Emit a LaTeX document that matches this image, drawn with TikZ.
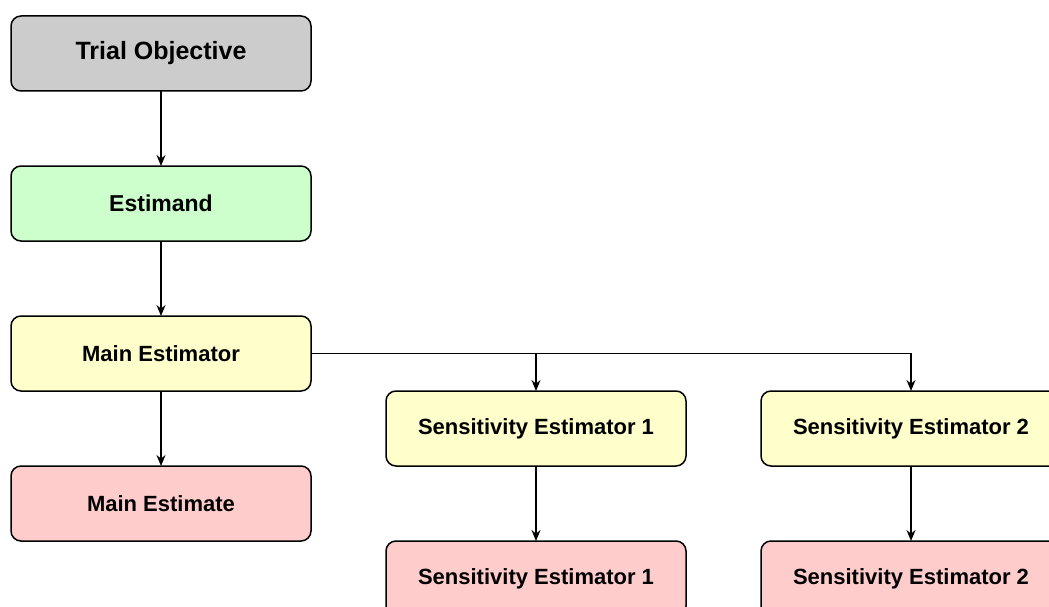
\documentclass[tikz,border=0pt]{standalone}
\usepackage{fontspec}
\setmainfont{Liberation Sans}
\usepackage{tikz}
\usepackage{xcolor}
\usetikzlibrary{positioning,arrows.meta}
\definecolor{objgray}{HTML}{CCCCCC}
\definecolor{estgreen}{HTML}{CCFFCC}
\definecolor{estyellow}{HTML}{FFFFCC}
\definecolor{estred}{HTML}{FFCCCC}
\tikzset{
    flow-box/.style = {draw=black, line width=1.5pt, rectangle, rounded corners=10pt, minimum width=300pt, minimum height=75pt, inner sep=0pt, outer sep=0pt, font=\bfseries\fontsize{22}{26}\selectfont},
    flow-arrow/.style = {draw=black, line width=1.5pt, -{Stealth[length=11pt,width=9pt]}},
}

\begin{document}
\begin{tikzpicture}[x=1pt, y=-1pt, node distance=75pt]
\useasboundingbox (0,0) rectangle (1049,607);
\clip (0,0) rectangle (1049,607);
\node [flow-box, fill=objgray, font=\bfseries\fontsize{25}{30}\selectfont] (objective) at (161,53.5) {Trial Objective};
\node [flow-box, fill=estgreen, font=\bfseries\fontsize{23}{28}\selectfont, below=of objective] (estimand) {Estimand};
\node [flow-box, fill=estyellow, below=of estimand] (main-estimator) {Main Estimator};
\node [flow-box, fill=estred, below=of main-estimator] (main-estimate) {Main Estimate};
\node [flow-box, fill=estyellow, right=of main-estimator, yshift=-75pt] (sens-estimator-1) {Sensitivity Estimator 1};
\node [flow-box, fill=estyellow, right=of sens-estimator-1] (sens-estimator-2) {Sensitivity Estimator 2};
\node [flow-box, fill=estred, below=of sens-estimator-1] (sens-estimate-1) {Sensitivity Estimator 1};
\node [flow-box, fill=estred, below=of sens-estimator-2] (sens-estimate-2) {Sensitivity Estimator 2};

\draw [flow-arrow] (objective) -- (estimand);
\draw [flow-arrow] (estimand) -- (main-estimator);
\draw [flow-arrow] (main-estimator) -- (main-estimate);
\draw [flow-arrow] (main-estimator.east) -| (sens-estimator-1.north);
\draw [flow-arrow] (main-estimator.east) -| (sens-estimator-2.north);
\draw [flow-arrow] (sens-estimator-1) -- (sens-estimate-1);
\draw [flow-arrow] (sens-estimator-2) -- (sens-estimate-2);
\end{tikzpicture}
\end{document}
